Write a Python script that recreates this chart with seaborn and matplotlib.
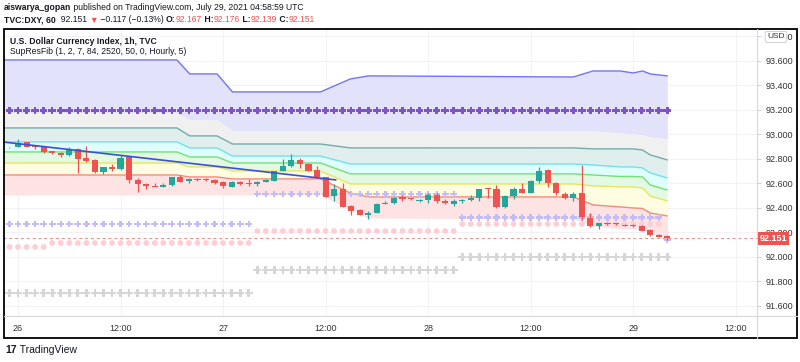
import numpy as np
import matplotlib
matplotlib.use("Agg")
import matplotlib.pyplot as plt
import matplotlib.transforms as mtransforms
from matplotlib.patches import Rectangle
from matplotlib.lines import Line2D
import seaborn as sns

# ---------------- data: hourly DXY candles (bar 0 = Jul 26 00:00 UTC) ----------------
bars = list(range(-1, 77))
opens = [92.895, 92.898, 92.939, 92.912, 92.900, 92.863, 92.851, 92.830, 92.884, 92.808,
         92.792, 92.694, 92.732, 92.718, 92.814, 92.629, 92.598, 92.582, 92.574, 92.585,
         92.653, 92.618, 92.639, 92.639, 92.629, 92.612, 92.574, 92.615, 92.602, 92.594,
         92.612, 92.623, 92.702, 92.743, 92.792, 92.762, 92.710, 92.651, 92.498, 92.553,
         92.416, 92.384, 92.340, 92.362, 92.433, 92.443, 92.492, 92.479, 92.457, 92.465,
         92.506, 92.460, 92.433, 92.457, 92.465, 92.482, 92.561, 92.553, 92.406, 92.498,
         92.553, 92.525, 92.623, 92.710, 92.602, 92.514, 92.484, 92.520, 92.318, 92.253,
         92.280, 92.278, 92.264, 92.261, 92.256, 92.220, 92.182, 92.167]
highs = [92.900, 92.963, 92.941, 92.914, 92.906, 92.868, 92.857, 92.896, 92.886, 92.906,
         92.798, 92.734, 92.759, 92.833, 92.824, 92.643, 92.607, 92.602, 92.602, 92.656,
         92.669, 92.645, 92.645, 92.643, 92.634, 92.620, 92.623, 92.623, 92.634, 92.623,
         92.639, 92.705, 92.798, 92.841, 92.808, 92.770, 92.743, 92.656, 92.596, 92.607,
         92.422, 92.394, 92.373, 92.443, 92.460, 92.492, 92.504, 92.484, 92.471, 92.520,
         92.520, 92.471, 92.471, 92.471, 92.504, 92.558, 92.563, 92.588, 92.504, 92.569,
         92.607, 92.629, 92.732, 92.716, 92.615, 92.533, 92.533, 92.751, 92.362, 92.280,
         92.286, 92.280, 92.269, 92.267, 92.261, 92.226, 92.188, 92.176]
lows = [92.893, 92.894, 92.894, 92.884, 92.851, 92.841, 92.814, 92.824, 92.688, 92.776,
        92.683, 92.678, 92.700, 92.710, 92.602, 92.533, 92.553, 92.569, 92.569, 92.580,
        92.610, 92.602, 92.623, 92.623, 92.596, 92.561, 92.569, 92.588, 92.580, 92.580,
        92.610, 92.620, 92.700, 92.737, 92.724, 92.700, 92.643, 92.487, 92.460, 92.406,
        92.345, 92.340, 92.313, 92.357, 92.433, 92.433, 92.460, 92.465, 92.451, 92.443,
        92.443, 92.433, 92.416, 92.443, 92.460, 92.455, 92.482, 92.400, 92.400, 92.471,
        92.520, 92.520, 92.602, 92.569, 92.506, 92.474, 92.460, 92.302, 92.247, 92.231,
        92.264, 92.261, 92.253, 92.247, 92.210, 92.171, 92.161, 92.139]
closes = [92.898, 92.931, 92.898, 92.900, 92.857, 92.847, 92.830, 92.879, 92.803, 92.786,
          92.694, 92.732, 92.716, 92.806, 92.629, 92.594, 92.582, 92.572, 92.590, 92.651,
          92.615, 92.634, 92.629, 92.629, 92.607, 92.580, 92.615, 92.594, 92.594, 92.615,
          92.629, 92.702, 92.743, 92.792, 92.759, 92.705, 92.651, 92.492, 92.553, 92.411,
          92.378, 92.345, 92.362, 92.433, 92.443, 92.484, 92.476, 92.471, 92.465, 92.504,
          92.455, 92.438, 92.460, 92.463, 92.482, 92.553, 92.553, 92.406, 92.498, 92.553,
          92.525, 92.620, 92.705, 92.602, 92.520, 92.479, 92.514, 92.324, 92.253, 92.275,
          92.269, 92.267, 92.256, 92.251, 92.215, 92.182, 92.166, 92.151]
last_price = 92.151

# ---------------- data: SupResFib levels at knot bars ----------------
knot_bars = [-1.8, 18.6, 20.1, 23.3, 25.1, 35.4, 38.9, 41.0, 65.0, 67.3, 70.5, 72.0, 73.1, 74.0, 76.0]
lvl_top = [93.608, 93.608, 93.494, 93.494, 93.347, 93.347, 93.453, 93.478, 93.469, 93.518,
           93.518, 93.502, 93.518, 93.494, 93.478]
lvl_lav = [93.176, 93.176, 93.118, 93.118, 93.029, 93.029, 93.029, 93.029, 93.029, 93.029,
           93.012, 93.004, 92.996, 92.980, 92.963]
lvl_teal = [93.053, 93.053, 92.988, 92.988, 92.922, 92.922, 92.890, 92.890, 92.890, 92.882,
            92.882, 92.882, 92.873, 92.833, 92.792]
lvl_cyan = [92.939, 92.939, 92.890, 92.890, 92.824, 92.824, 92.759, 92.759, 92.759, 92.751,
            92.735, 92.735, 92.727, 92.686, 92.645]
lvl_green = [92.857, 92.857, 92.816, 92.816, 92.767, 92.767, 92.678, 92.678, 92.678, 92.669,
             92.657, 92.657, 92.653, 92.588, 92.547]
lvl_yellow = [92.767, 92.767, 92.735, 92.735, 92.702, 92.702, 92.596, 92.596, 92.596, 92.580,
              92.572, 92.572, 92.563, 92.498, 92.457]
lvl_red = [92.669, 92.669, 92.653, 92.653, 92.637, 92.637, 92.522, 92.490, 92.490, 92.425,
           92.408, 92.400, 92.396, 92.359, 92.335]
lvl_bottom = [92.506, 92.506, 92.506, 92.506, 92.506, 92.506, 92.384, 92.318, 92.310, 92.253,
              92.229, 92.229, 92.220, 92.196, 92.155]

# trend line
trend_bars = [-1.8, 37.2]
trend_vals = [92.939, 92.629]

# marker rows: (first bar, last bar) per segment and the level of each segment
purple_bars = [(-1, 76)]
purple_levels = [93.195]
lilac_bars = [(-1, 27), (28, 51), (52, 75), (76, 76)]
lilac_levels = [92.269, 92.514, 92.322, 92.139]
pink_bars = [(-1, 3), (4, 27), (28, 51), (52, 75)]
pink_levels = [92.082, 92.114, 92.212, 92.269]
gray_bars = [(-1, 27), (28, 51), (52, 76)]
gray_levels = [91.706, 91.894, 92.000]

time_ticks = [0, 12, 24, 36, 48, 60, 72, 84]
time_labels = ["26", "12:00", "27", "12:00", "28", "12:00", "29", "12:00"]
price_ticks = [91.6, 91.8, 92.0, 92.2, 92.4, 92.6, 92.8, 93.0, 93.2, 93.4, 93.6, 93.8]

UP, DOWN = "#26a69a", "#ef5350"

# ---------------- figure ----------------
sns.set_style("white")
plt.rcParams["font.family"] = ["Liberation Sans", "DejaVu Sans"]

W, H = 800, 362
fig = plt.figure(figsize=(8, 3.62), dpi=100)
ax = fig.add_axes([3 / W, 1 - 316 / H, 754 / W, 288 / H])
ax.set_xlim(-1.76, 86.5)
ax.set_ylim(91.518, 93.869)

# grid
for t in price_ticks:
    ax.axhline(t, color="#f0f2f6", lw=0.8, zorder=0)
for t in time_ticks:
    ax.axvline(t, color="#f0f2f6", lw=0.8, zorder=0)

# bands
bands = [
    (lvl_top, lvl_lav, "#e2e2fb"),
    (lvl_lav, lvl_teal, "#f0f0f0"),
    (lvl_teal, lvl_cyan, "#e0efee"),
    (lvl_cyan, lvl_green, "#e0fdfd"),
    (lvl_green, lvl_yellow, "#e4f9e3"),
    (lvl_yellow, lvl_red, "#fefde1"),
    (lvl_red, lvl_bottom, "#fde3e3"),
]
for upper, lower, c in bands:
    ax.fill_between(knot_bars, lower, upper, color=c, lw=0, zorder=1)

lines = [
    (lvl_top, "#7373f2"),
    (lvl_teal, "#72aca7"),
    (lvl_cyan, "#6fe2ea"),
    (lvl_green, "#74e074"),
    (lvl_yellow, "#e6e65c"),
    (lvl_red, "#f5897a"),
]
for vals, c in lines:
    sns.lineplot(x=knot_bars, y=vals, ax=ax, color=c, lw=1.0, zorder=2)


def rows(segments, levels):
    xs, ys = [], []
    for (a, b), v in zip(segments, levels):
        xs += list(range(a, b + 1))
        ys += [v] * (b - a + 1)
    return xs, ys


# marker rows
gx, gy = rows(gray_bars, gray_levels)
sns.scatterplot(x=gx, y=gy, marker="P", s=34, color="#d6d6d6", edgecolor="none", ax=ax, zorder=3)
px, py = rows(pink_bars, pink_levels)
sns.scatterplot(x=px, y=py, marker="o", s=17, color="#ffcdd2", edgecolor="none", ax=ax, zorder=3)
lx, ly = rows(lilac_bars, lilac_levels)
sns.scatterplot(x=lx, y=ly, marker="P", s=24, color="#c4bcf4", edgecolor="none", ax=ax, zorder=3)
ux, uy = rows(purple_bars, purple_levels)
sns.scatterplot(x=ux, y=uy, marker="P", s=30, color="#7f52c8", edgecolor="none", ax=ax, zorder=3)

# last price dashed line
ax.axhline(last_price, color="#f08a88", lw=0.7, ls=(0, (3, 3)), zorder=3)

# candles
o = np.array(opens)
c = np.array(closes)
colors = [UP if cc >= oo else DOWN for oo, cc in zip(o, c)]
ax.vlines(bars, lows, highs, colors=colors, lw=0.9, zorder=4)
body_low = np.minimum(o, c)
body_h = np.maximum(np.abs(c - o), 0.006)
ax.bar(bars, body_h, bottom=body_low, width=0.72, color=colors, lw=0, zorder=4)

# trend line
sns.lineplot(x=trend_bars, y=trend_vals, ax=ax, color="#3b4fd8", lw=1.2, zorder=5)

# axes
ax.set_xticks(time_ticks)
ax.set_xticklabels(time_labels)
ax.set_yticks(price_ticks)
ax.set_yticklabels([f"{t:.3f}" for t in price_ticks])
ax.yaxis.tick_right()
ax.tick_params(axis="y", length=3, width=0.6, color="#c8cbd3", pad=3, labelsize=6.5,
               labelcolor="#333333")
ax.tick_params(axis="x", length=0, pad=6, labelsize=6.5, labelcolor="#333333")
ax.set_xlabel("")
ax.set_ylabel("")
for s in ax.spines.values():
    s.set_visible(False)

# last price tag
tr = mtransforms.blended_transform_factory(ax.transAxes, ax.transData)
ax.text(1.003, last_price, "92.151", transform=tr, ha="left", va="center", fontsize=6.5,
        color="white", fontweight="bold", zorder=10, clip_on=False,
        bbox=dict(boxstyle="square,pad=0.25", fc="#ef5350", ec="none"))

# USD badge
fig.text(776 / W, 1 - 37 / H, "USD", ha="center", va="center", fontsize=6, color="#333333",
         bbox=dict(boxstyle="round,pad=0.25", fc="white", ec="#c8cbd3", lw=0.6))

# frame and separators
fig.add_artist(Rectangle((4 / W, 1 - 338 / H), 793 / W, 309 / H, transform=fig.transFigure,
                         fill=False, ec="black", lw=1.3))
fig.add_artist(Line2D([757 / W, 757 / W], [1 - 338 / H, 1 - 29 / H], transform=fig.transFigure,
                      color="#d6d9e0", lw=0.8))
fig.add_artist(Line2D([4 / W, 797 / W], [1 - 316 / H, 1 - 316 / H], transform=fig.transFigure,
                      color="#d6d9e0", lw=0.8))

# header text runs
renderer = fig.canvas.get_renderer()


def runs(x, y, parts, size):
    for txt, col, weight in parts:
        t = fig.text(x / W, 1 - y / H, txt, ha="left", va="center", fontsize=size,
                     color=col, fontweight=weight)
        x += t.get_window_extent(renderer).width


runs(4, 8, [("aiswarya_gopan", "#131722", "bold"),
            (" published on TradingView.com, July 29, 2021 04:58:59 UTC", "#131722", "normal")], 6.2)
runs(4, 20, [("TVC:DXY, 60", "#131722", "bold"),
             ("  92.151 ", "#131722", "normal"),
             ("▼", DOWN, "normal"),
             (" −0.117 (−0.13%) ", "#131722", "normal"),
             ("O:", "#131722", "bold"), ("92.167", DOWN, "normal"),
             (" H:", "#131722", "bold"), ("92.176", DOWN, "normal"),
             (" L:", "#131722", "bold"), ("92.139", DOWN, "normal"),
             (" C:", "#131722", "bold"), ("92.151", DOWN, "normal")], 6.2)
runs(10, 41, [("U.S. Dollar Currency Index, 1h, TVC", "#131722", "bold")], 6.2)
runs(10, 52, [("SupResFib (1, 2, 7, 84, 2520, 50, 0, Hourly, 5)", "#131722", "normal")], 6.2)

# logo
runs(5, 350, [("17", "#131722", "bold"), (" TradingView", "#131722", "normal")], 7.5)

fig.savefig("out.png", dpi=100)
